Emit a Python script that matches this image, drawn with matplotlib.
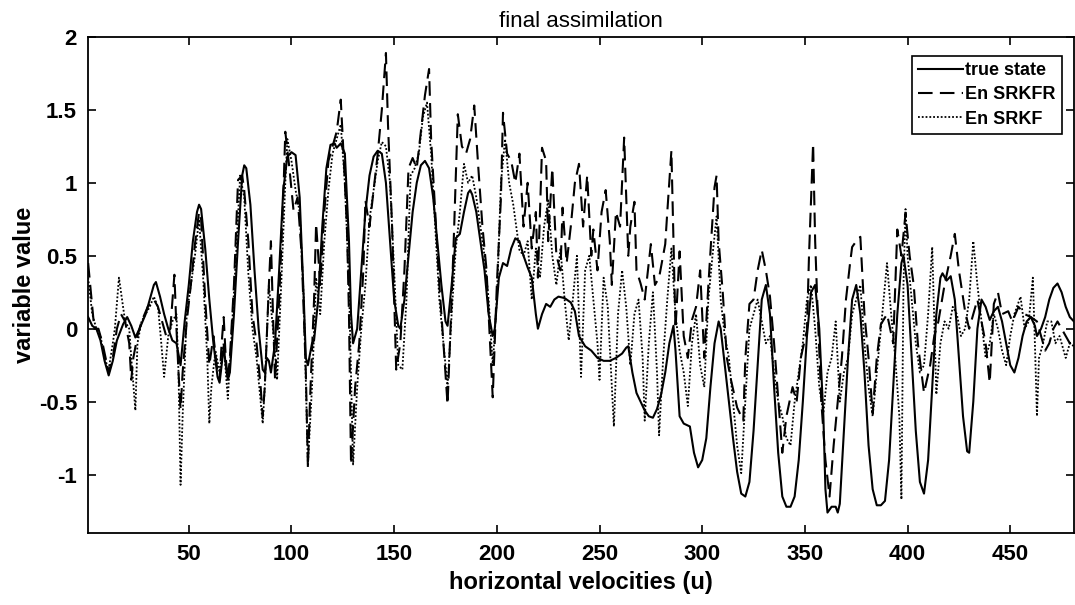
"""
final assimilation: true state vs EnSRKFR vs EnSRKF along the horizontal
velocity grid. Values were read off the reference figure (peaks/troughs).
"""

import matplotlib
matplotlib.use("Agg")
import matplotlib.pyplot as plt

# ---------------------------------------------------------------------------
# Data (grid index, variable value)
# ---------------------------------------------------------------------------

TRUE_STATE = [
    (1, 0.08), (3, 0.02), (5, 0.0), (7, -0.08), (9, -0.22), (11, -0.32),
    (13, -0.22), (15, -0.08), (18, 0.03), (20, 0.08), (22, 0.02), (24, -0.06),
    (26, 0.0), (29, 0.1), (31, 0.2), (33, 0.3), (34, 0.32), (36, 0.22),
    (38, 0.1), (40, 0.0), (42, -0.08), (44, -0.1), (46, -0.25), (48, 0.05),
    (50, 0.3), (52, 0.6), (54, 0.8), (55, 0.85), (56, 0.82), (58, 0.55),
    (60, 0.2), (62, -0.1), (64, -0.33), (65, -0.37), (66, -0.25), (67, -0.12),
    (68, -0.25), (69, -0.35), (70, -0.3), (72, 0.1), (74, 0.6), (76, 1.05),
    (77, 1.12), (78, 1.1), (80, 0.85), (82, 0.4), (84, 0.0), (86, -0.28),
    (87, -0.3), (88, -0.2), (89, -0.22), (90, -0.3), (92, -0.1), (94, 0.4),
    (96, 0.95), (98, 1.18), (100, 1.21), (102, 1.19), (104, 0.9), (106, 0.2),
    (107, -0.2), (108, -0.25), (110, -0.1), (111, -0.08), (113, 0.2),
    (115, 0.7), (117, 1.1), (119, 1.26), (121, 1.27), (122, 1.24), (124, 1.27),
    (126, 1.2), (128, 0.6), (129, 0.1), (130, -0.1), (132, 0.0), (134, 0.4),
    (136, 0.8), (138, 1.05), (140, 1.18), (142, 1.22), (144, 1.2), (146, 1.0),
    (148, 0.6), (150, 0.2), (152, 0.02), (153, 0.0), (155, 0.2), (157, 0.5),
    (159, 0.8), (161, 1.0), (163, 1.12), (165, 1.15), (167, 1.1), (169, 0.9),
    (171, 0.6), (173, 0.3), (175, 0.05), (176, 0.02), (178, 0.3), (180, 0.62),
    (182, 0.65), (184, 0.8), (186, 0.93), (187, 0.95), (188, 0.92), (190, 0.8),
    (192, 0.6), (194, 0.4), (196, 0.1), (198, -0.05), (199, 0.0), (201, 0.35),
    (203, 0.45), (205, 0.43), (207, 0.55), (209, 0.62), (211, 0.6), (213, 0.5),
    (215, 0.42), (217, 0.35), (219, 0.1), (220, 0.0), (222, 0.1), (224, 0.17),
    (226, 0.15), (228, 0.2), (230, 0.22), (233, 0.21), (236, 0.18),
    (238, 0.12), (240, -0.05), (243, -0.12), (246, -0.15), (249, -0.2),
    (252, -0.22), (255, -0.22), (258, -0.2), (261, -0.17), (263, -0.13),
    (264, -0.12), (266, -0.3), (268, -0.44), (270, -0.5), (272, -0.56),
    (274, -0.6), (276, -0.61), (278, -0.55), (280, -0.45), (282, -0.3),
    (284, -0.1), (286, 0.02), (287, -0.15), (289, -0.6), (291, -0.65),
    (294, -0.67), (296, -0.85), (298, -0.95), (300, -0.9), (302, -0.75),
    (304, -0.4), (306, -0.1), (308, 0.05), (309, 0.0), (311, -0.25),
    (313, -0.5), (315, -0.75), (317, -0.98), (319, -1.13), (321, -1.15),
    (323, -1.05), (325, -0.7), (327, -0.25), (329, 0.2), (331, 0.3),
    (333, 0.1), (335, -0.4), (337, -0.85), (339, -1.15), (341, -1.22),
    (343, -1.22), (345, -1.15), (347, -0.9), (349, -0.5), (351, -0.05),
    (353, 0.25), (355, 0.3), (357, 0.0), (359, -0.6), (360, -1.1),
    (361, -1.26), (363, -1.22), (365, -1.22), (366, -1.26), (367, -1.2),
    (369, -0.7), (371, -0.2), (373, 0.2), (375, 0.3), (377, 0.1), (379, -0.3),
    (381, -0.8), (383, -1.1), (385, -1.21), (387, -1.21), (389, -1.18),
    (391, -0.9), (393, -0.4), (395, 0.1), (397, 0.45), (398, 0.5), (400, 0.3),
    (402, -0.2), (404, -0.7), (406, -1.05), (408, -1.13), (410, -0.9),
    (412, -0.4), (414, 0.1), (416, 0.35), (417, 0.38), (419, 0.33),
    (421, 0.36), (423, 0.2), (425, -0.2), (427, -0.6), (429, -0.84),
    (430, -0.85), (432, -0.5), (434, 0.0), (436, 0.2), (438, 0.15),
    (440, 0.06), (442, 0.12), (444, 0.15), (446, 0.05), (448, -0.1),
    (450, -0.25), (452, -0.3), (454, -0.2), (456, -0.05), (458, 0.05),
    (460, 0.08), (462, 0.02), (463, -0.05), (465, 0.0), (467, 0.08),
    (469, 0.2), (471, 0.28), (473, 0.31), (475, 0.25), (477, 0.15),
    (479, 0.08), (481, 0.05),
]

ENSRKFR = [
    (1, 0.45), (2, 0.3), (4, 0.0), (6, 0.0), (8, -0.1), (11, -0.3),
    (13, -0.2), (15, 0.0), (17, 0.1), (19, 0.05), (21, -0.1), (22, -0.35),
    (23, -0.2), (25, -0.05), (27, 0.05), (30, 0.15), (33, 0.2), (35, 0.15),
    (37, 0.05), (39, -0.05), (41, 0.0), (43, 0.37), (44, 0.0), (45, -0.3),
    (46, -0.55), (47, -0.3), (49, 0.05), (51, 0.3), (53, 0.58), (55, 0.8),
    (56, 0.75), (58, 0.2), (60, -0.25), (62, -0.05), (64, -0.3), (65, -0.35),
    (66, -0.1), (67, 0.08), (68, -0.2), (69, -0.35), (70, -0.2), (72, 0.3),
    (74, 1.02), (76, 1.05), (77, 0.95), (79, 0.6), (81, 0.1), (83, -0.1),
    (85, -0.4), (86, -0.6), (87, -0.4), (89, 0.3), (90, 0.6), (91, 0.1),
    (92, -0.35), (94, 0.2), (96, 0.9), (97, 1.35), (99, 1.1), (101, 0.81),
    (103, 0.9), (105, 0.5), (107, -0.3), (108, -0.95), (109, -0.5),
    (111, 0.2), (112, 0.72), (114, 0.3), (116, 0.8), (118, 1.15), (120, 1.25),
    (122, 1.35), (124, 1.57), (125, 1.3), (127, 0.7), (128, 0.1),
    (129, -0.93), (131, -0.4), (133, -0.1), (135, 0.4), (136, 0.88),
    (138, 0.7), (140, 0.95), (142, 1.2), (144, 1.5), (146, 1.89), (147, 1.4),
    (149, 0.7), (151, -0.28), (153, -0.1), (155, 0.4), (157, 1.1),
    (159, 1.17), (161, 1.1), (163, 1.35), (165, 1.6), (167, 1.78), (168, 1.3),
    (170, 0.8), (172, 0.3), (174, -0.1), (176, -0.52), (178, 0.2), (179, 0.6),
    (181, 1.47), (183, 1.25), (185, 1.2), (187, 1.3), (189, 1.53), (191, 1.1),
    (193, 0.7), (195, 0.4), (196, 0.1), (198, -0.47), (200, 0.3), (202, 0.9),
    (203, 1.48), (205, 1.2), (207, 1.15), (209, 1.0), (211, 1.2), (213, 0.7),
    (215, 1.0), (217, 0.55), (219, 0.8), (220, 0.35), (222, 1.24),
    (224, 1.15), (225, 0.6), (227, 1.1), (229, 0.5), (231, 0.4), (232, 0.83),
    (234, 0.45), (236, 0.7), (238, 1.0), (240, 1.13), (242, 0.7), (244, 1.05),
    (246, 0.5), (247, 0.68), (249, 0.4), (251, 0.8), (253, 0.95), (255, 0.6),
    (256, 0.3), (258, 0.8), (260, 0.7), (262, 1.31), (264, 0.5), (265, 0.7),
    (267, 0.87), (268, 0.4), (270, 0.31), (272, 0.2), (275, 0.58), (277, 0.3),
    (279, 0.35), (282, 0.58), (283, 0.8), (285, 1.22), (287, 0.0),
    (289, 0.53), (291, -0.05), (293, -0.2), (295, 0.06), (297, 0.15),
    (299, 0.4), (301, -0.2), (303, 0.3), (306, 0.97), (307, 1.05), (308, 0.6),
    (310, 0.25), (312, -0.2), (314, -0.35), (317, -0.54), (320, -0.63),
    (321, -0.2), (323, 0.17), (325, 0.2), (327, 0.4), (329, 0.54), (331, 0.4),
    (333, 0.22), (335, -0.1), (337, -0.47), (339, -0.85), (341, -0.6),
    (344, -0.4), (346, -0.5), (348, -0.2), (351, -0.01), (352, 0.5),
    (354, 1.27), (355, 0.6), (356, 0.2), (358, -0.5), (360, -0.9),
    (362, -1.15), (364, -0.8), (366, -0.5), (368, -0.2), (370, 0.2),
    (372, 0.45), (373, 0.56), (375, 0.6), (377, 0.63), (379, 0.1),
    (381, -0.2), (383, -0.58), (385, -0.2), (387, 0.03), (390, 0.1),
    (393, -0.1), (395, 0.68), (397, 0.5), (399, 0.79), (401, 0.5), (403, 0.3),
    (405, -0.1), (408, -0.44), (411, -0.25), (413, -0.05), (415, 0.05),
    (418, 0.3), (421, 0.5), (423, 0.65), (425, 0.4), (428, 0.12), (430, 0.0),
    (432, 0.1), (434, 0.2), (436, 0.05), (438, -0.1), (440, -0.37),
    (442, 0.17), (444, 0.25), (446, 0.1), (449, 0.12), (451, 0.05),
    (454, 0.15), (457, 0.1), (460, 0.08), (463, 0.05), (465, -0.05),
    (467, -0.15), (469, -0.1), (471, 0.0), (473, 0.05), (475, 0.0),
    (477, -0.05), (479, -0.1), (481, -0.08),
]

ENSRKF = [
    (1, 0.35), (3, 0.1), (5, 0.0), (7, -0.05), (9, -0.2), (11, -0.28),
    (13, -0.1), (14, 0.0), (16, 0.35), (17, 0.25), (19, 0.05), (21, 0.0),
    (22, -0.2), (24, -0.56), (25, -0.1), (27, 0.05), (29, 0.1), (31, 0.15),
    (33, 0.22), (35, 0.15), (36, 0.0), (38, -0.33), (40, -0.05), (42, 0.05),
    (44, 0.1), (45, -0.3), (46, -1.07), (47, -0.6), (49, 0.1), (51, 0.3),
    (53, 0.5), (55, 0.75), (57, 0.35), (59, -0.2), (60, -0.65), (61, -0.4),
    (63, -0.15), (65, -0.3), (67, -0.1), (69, -0.48), (71, 0.0), (73, 0.5),
    (75, 1.05), (77, 0.9), (79, 0.38), (81, 0.0), (83, -0.2), (86, -0.65),
    (87, -0.4), (89, 0.3), (91, 0.0), (93, -0.35), (95, 0.3), (97, 1.0),
    (98, 1.3), (100, 1.15), (102, 0.95), (104, 0.8), (106, 0.2), (108, -0.93),
    (110, -0.4), (112, 0.35), (114, 0.1), (116, 0.6), (118, 0.95), (120, 1.2),
    (122, 1.3), (124, 1.4), (126, 1.0), (128, 0.3), (130, -0.93),
    (132, -0.4), (134, 0.0), (136, 0.3), (138, 0.75), (140, 0.95),
    (142, 1.15), (144, 1.28), (146, 1.25), (148, 1.0), (150, 0.4),
    (152, -0.25), (154, -0.28), (156, 0.2), (158, 1.05), (160, 1.1),
    (162, 1.2), (164, 1.45), (166, 1.55), (168, 1.2), (170, 0.7), (172, 0.2),
    (174, -0.1), (176, -0.4), (178, 0.1), (180, 0.55), (182, 0.8),
    (184, 1.13), (186, 1.0), (188, 1.05), (190, 0.9), (192, 0.7), (194, 0.5),
    (196, 0.2), (198, -0.25), (200, 0.2), (202, 1.0), (204, 1.3), (206, 1.0),
    (208, 0.85), (211, 0.54), (213, 0.5), (215, 0.6), (217, 0.2), (219, 0.55),
    (221, 0.35), (223, 0.7), (225, 0.88), (227, 0.5), (229, 0.3), (231, 0.55),
    (233, 0.2), (235, -0.08), (237, 0.2), (239, 0.5), (241, -0.33),
    (243, 0.4), (245, 0.5), (247, 0.2), (249, -0.1), (250, -0.35),
    (252, 0.35), (254, 0.15), (256, -0.4), (257, -0.67), (259, 0.1),
    (261, 0.4), (263, 0.15), (265, -0.25), (267, 0.1), (269, 0.2),
    (271, -0.2), (272, -0.63), (274, -0.1), (276, 0.25), (278, -0.3),
    (279, -0.73), (281, -0.2), (283, 0.2), (285, 0.55), (287, 0.1),
    (289, -0.15), (291, -0.3), (293, -0.53), (295, -0.1), (297, 0.1),
    (299, -0.25), (301, -0.4), (303, 0.2), (305, 0.5), (307, 0.77),
    (309, 0.2), (311, -0.05), (313, -0.2), (315, -0.5), (317, -0.8),
    (319, -0.99), (321, -0.5), (323, 0.0), (325, 0.1), (327, 0.2),
    (329, 0.05), (331, -0.1), (333, -0.05), (335, -0.3), (337, -0.5),
    (339, -0.6), (341, -0.75), (343, -0.8), (345, -0.5), (347, -0.3),
    (349, -0.1), (351, 0.2), (353, 0.3), (355, 0.0), (357, -0.4),
    (359, -0.58), (361, -0.3), (363, -0.2), (365, 0.05), (367, -0.5),
    (369, -0.3), (371, -0.2), (373, 0.1), (375, 0.2), (377, 0.3),
    (379, -0.1), (381, -0.4), (383, -0.6), (385, -0.3), (387, 0.0),
    (389, 0.3), (390, 0.45), (392, 0.1), (394, -0.2), (396, -0.6),
    (397, -1.17), (398, 0.3), (399, 0.82), (400, 0.5), (402, 0.2),
    (404, -0.1), (406, -0.3), (408, -0.25), (410, 0.1), (412, 0.56),
    (414, -0.45), (416, -0.1), (418, 0.05), (420, 0.0), (422, 0.15),
    (424, 0.1), (426, -0.05), (428, 0.0), (430, 0.2), (432, 0.6), (434, 0.3),
    (436, 0.05), (438, -0.2), (440, -0.1), (442, 0.1), (444, 0.0),
    (446, -0.15), (448, -0.25), (450, -0.05), (452, 0.1), (455, 0.22),
    (457, 0.0), (459, 0.05), (461, 0.35), (462, -0.1), (463, -0.6),
    (464, -0.2), (466, -0.1), (468, 0.05), (470, 0.05), (472, -0.1),
    (474, -0.05), (477, -0.2), (479, -0.1), (481, -0.12),
]

X_TICKS = [50, 100, 150, 200, 250, 300, 350, 400, 450]
Y_TICKS = [-1, -0.5, 0, 0.5, 1, 1.5, 2]
Y_TICK_LABELS = ["-1", "-0.5", "0", "0.5", "1", "1.5", "2"]

TITLE = "final assimilation"
XLABEL = "horizontal velocities (u)"
YLABEL = "variable value"

# ---------------------------------------------------------------------------

plt.rcParams["font.family"] = ["Liberation Sans", "DejaVu Sans"]
plt.rcParams["axes.unicode_minus"] = False


def main():
    fig = plt.figure(figsize=(10.75, 6.05), dpi=100)
    ax = fig.add_axes([0.082, 0.119, 0.917, 0.82])

    series = [
        (TRUE_STATE, "true state", "-", 1.5),
        (ENSRKFR, "En SRKFR", (0, (7, 3.5)), 1.5),
        (ENSRKF, "En SRKF", (0, (1, 1.1)), 1.3),
    ]
    for pts, label, ls, lw in series:
        xs, ys = zip(*pts)
        ax.plot(xs, ys, color="black", linestyle=ls, linewidth=lw, label=label)

    ax.set_xlim(1, 481)
    ax.set_ylim(-1.4, 2)
    ax.set_xticks(X_TICKS)
    ax.set_yticks(Y_TICKS)
    ax.set_yticklabels(Y_TICK_LABELS)

    ax.tick_params(direction="in", length=6, width=1.2, top=True, right=True,
                   labelsize=16, pad=8)
    for lbl in ax.get_xticklabels() + ax.get_yticklabels():
        lbl.set_fontweight("bold")
    for sp in ax.spines.values():
        sp.set_linewidth(1.3)

    ax.set_title(TITLE, fontsize=16, pad=7)
    ax.set_xlabel(XLABEL, fontsize=17, fontweight="bold", labelpad=4)
    ax.set_ylabel(YLABEL, fontsize=17, fontweight="bold", labelpad=2)

    leg = ax.legend(loc="upper right", bbox_to_anchor=(0.988, 0.962),
                    prop={"weight": "bold", "size": 13},
                    frameon=True, fancybox=False, framealpha=1,
                    handlelength=2.5, handletextpad=0.1, labelspacing=0.4,
                    borderpad=0.35, borderaxespad=0)
    leg.get_frame().set_edgecolor("black")
    leg.get_frame().set_linewidth(1.2)

    fig.savefig("out.png", dpi=100)


if __name__ == "__main__":
    main()
